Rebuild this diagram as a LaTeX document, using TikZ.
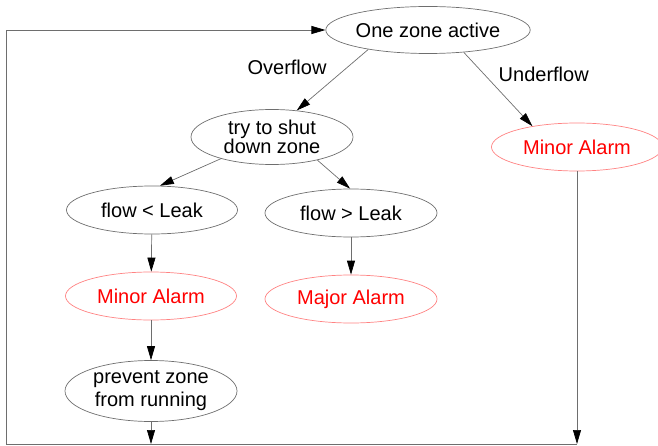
\documentclass[tikz,border=0pt]{standalone}
\usepackage{fontspec}
\setmainfont{Liberation Sans}
\usetikzlibrary{shapes.geometric, arrows.meta, positioning}

\definecolor{linegray}{RGB}{110,110,110}
\definecolor{alarmred}{RGB}{255,0,0}
\definecolor{alarmline}{RGB}{255,130,130}

\begin{document}
\begin{tikzpicture}[x=1pt, y=1pt, line width=0.7pt,
    every node/.style={ellipse, inner sep=0pt, font=\fontsize{20}{19}\selectfont, align=center},
    state/.style={draw=linegray, minimum width=171pt, minimum height=48pt},
    alarm/.style={draw=alarmline, text=alarmred, minimum width=171pt, minimum height=48pt},
    lbl/.style={rectangle, draw=none},
    flow/.style={draw=linegray, -{Triangle[length=14pt, width=8pt, color=black]}}]
        \useasboundingbox (0,0) rectangle (658,445);

        \node[state, minimum width=184pt, minimum height=47pt] (top) at (428,415) {One zone active};
        \node[state, minimum width=162pt, minimum height=55pt] (shut) [below of = top, node distance=107pt, xshift=-156pt] {try to shut\\down zone};
        \node[alarm] (minorr) [below of = top, node distance=117pt, xshift=149pt] {Minor Alarm};
        \node[state] (lt) [below of = shut, node distance=73pt, xshift=-120pt] {flow < Leak};
        \node[state, minimum width=172pt] (gt) [below of = shut, node distance=76pt, xshift=79pt] {flow > Leak};
        \node[alarm] (minorl) [below of = lt, node distance=86pt, xshift=-1pt] {Minor Alarm};
        \node[alarm, minimum width=172pt] (major) [below of = gt, node distance=86pt] {Major Alarm};
        \node[state, minimum width=172pt, minimum height=61pt] (prevent) [below of = minorl, node distance=95pt] {prevent zone\\[4pt]from running};

        \coordinate (pb) at (prevent |- 0,1);
        \coordinate (rb) at (minorr |- 0,1);
        \coordinate (lb) at (6,1);

        \draw[flow] (top.198) -- node[lbl, pos=0.3, left=20pt] {Overflow} (shut.47);
        \draw[flow] (top.328) -- node[lbl, pos=0.3, right=14pt] {Underflow} (minorr.155);
        \draw[flow] (shut.203) -- (lt.72);
        \draw[flow] (shut.333) -- (gt.92);
        \draw[flow] (lt) -- (minorl);
        \draw[flow] (gt) -- (major);
        \draw[flow] (minorl) -- (prevent);
        \draw[flow] (prevent) -- (pb);
        \draw[flow] (minorr) -- (rb);
        \draw[flow] (rb) -- (lb) |- (top);
\end{tikzpicture}
\end{document}
